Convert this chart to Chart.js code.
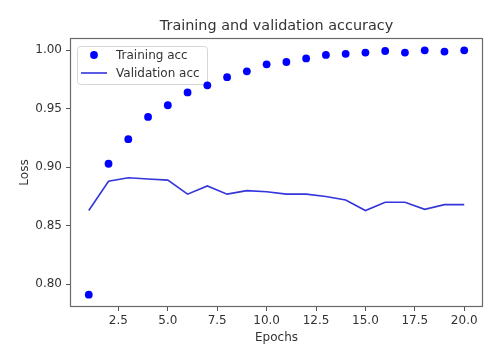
<!DOCTYPE html>
<html>
<head>
<meta charset="utf-8">
<script src="https://cdn.jsdelivr.net/npm/chart.js@4/dist/chart.umd.min.js"></script>
<style>
  html, body { margin: 0; padding: 0; background: #fff; }
  #wrap { width: 500px; height: 352px; }
</style>
</head>
<body>
<div id="wrap"><canvas id="chart" width="500" height="352"></canvas></div>
<script>
const epochs = [1, 2, 3, 4, 5, 6, 7, 8, 9, 10, 11, 12, 13, 14, 15, 16, 17, 18, 19, 20];
const trainAcc = [0.791, 0.903, 0.924, 0.943, 0.953, 0.964, 0.970, 0.977, 0.982, 0.988,
                  0.990, 0.993, 0.996, 0.997, 0.998, 0.9994, 0.998, 1.000, 0.9989, 1.000];
const valAcc = [0.863, 0.888, 0.891, 0.890, 0.889, 0.877, 0.884, 0.877, 0.880, 0.879,
                0.877, 0.877, 0.875, 0.872, 0.863, 0.870, 0.870, 0.864, 0.868, 0.868];
const xTicks = [2.5, 5.0, 7.5, 10.0, 12.5, 15.0, 17.5, 20.0];
const yTicks = [0.80, 0.85, 0.90, 0.95, 1.00];

const textColor = '#333';
const font = 'DejaVu Sans';

const toPoints = (vals) => epochs.map((e, i) => ({ x: e, y: vals[i] }));

// legend box sits under the marks, like the picture shows
const legendBox = {
  id: 'legendBox',
  beforeDatasetsDraw(chart) {
    const { ctx } = chart;
    ctx.save();
    ctx.beginPath();
    ctx.roundRect(77.5, 46.5, 130, 38, 3);
    ctx.fillStyle = '#fff';
    ctx.fill();
    ctx.strokeStyle = '#d6d6d6';
    ctx.lineWidth = 1;
    ctx.stroke();
    ctx.restore();
  }
};

// matplotlib-ish frame, title and legend entries
const decorations = {
  id: 'decorations',
  afterDatasetsDraw(chart) {
    const { ctx, chartArea: a } = chart;
    ctx.save();

    ctx.strokeStyle = '#6a6a6a';
    ctx.lineWidth = 1.2;
    ctx.strokeRect(a.left + 0.5, a.top + 0.5, a.right - a.left - 1, a.bottom - a.top - 1);

    ctx.fillStyle = textColor;
    ctx.font = `14.4px "${font}"`;
    ctx.textAlign = 'center';
    ctx.textBaseline = 'middle';
    ctx.fillText('Training and validation accuracy', (a.left + a.right) / 2, 26.5);

    const ds = chart.data.datasets;
    ctx.font = `12px "${font}"`;
    ctx.textAlign = 'left';

    ctx.fillStyle = ds[0].pointBackgroundColor;
    ctx.beginPath();
    ctx.arc(94, 55, 3.9, 0, Math.PI * 2);
    ctx.fill();
    ctx.fillStyle = textColor;
    ctx.fillText(ds[0].label, 116, 55.5);

    ctx.strokeStyle = ds[1].borderColor;
    ctx.lineWidth = ds[1].borderWidth;
    ctx.beginPath();
    ctx.moveTo(81, 73);
    ctx.lineTo(107, 73);
    ctx.stroke();
    ctx.fillStyle = textColor;
    ctx.fillText(ds[1].label, 116, 73.5);

    ctx.restore();
  }
};

new Chart(document.getElementById('chart'), {
  type: 'line',
  data: {
    datasets: [
      {
        label: 'Training acc',
        data: toPoints(trainAcc),
        showLine: false,
        pointRadius: 3.9,
        pointBackgroundColor: '#0000ff',
        pointBorderWidth: 0,
        borderColor: '#0000ff'
      },
      {
        label: 'Validation acc',
        data: toPoints(valAcc),
        borderColor: '#3535dc',
        borderWidth: 1.6,
        pointRadius: 0,
        tension: 0
      }
    ]
  },
  options: {
    responsive: false,
    animation: false,
    layout: { padding: { top: 38, right: 17, left: 0, bottom: 0 } },
    plugins: {
      legend: { display: false },
      tooltip: { enabled: false }
    },
    scales: {
      x: {
        type: 'linear',
        min: 0.05,
        max: 20.95,
        afterBuildTicks: (scale) => { scale.ticks = xTicks.map(v => ({ value: v })); },
        afterFit: (scale) => { scale.height = 45; },
        grid: { display: true, drawOnChartArea: false, drawTicks: true, tickLength: 4, color: '#555' },
        border: { display: false },
        ticks: {
          color: textColor,
          font: { family: font, size: 12 },
          padding: 3,
          maxRotation: 0,
          autoSkip: false,
          callback: (v) => Number(v).toFixed(1)
        },
        title: {
          display: true,
          text: 'Epochs',
          color: textColor,
          font: { family: font, size: 12 },
          padding: { top: 0, bottom: 7 }
        }
      },
      y: {
        min: 0.7805,
        max: 1.0105,
        afterBuildTicks: (scale) => { scale.ticks = yTicks.map(v => ({ value: v })); },
        afterFit: (scale) => { scale.width = 70; },
        grid: { display: true, drawOnChartArea: false, drawTicks: true, tickLength: 4, color: '#555' },
        border: { display: false },
        ticks: {
          color: textColor,
          font: { family: font, size: 12 },
          padding: 4,
          autoSkip: false,
          callback: (v) => Number(v).toFixed(2)
        },
        title: {
          display: true,
          text: 'Loss',
          color: textColor,
          font: { family: font, size: 12 },
          padding: { top: 18, bottom: 0 }
        }
      }
    }
  },
  plugins: [legendBox, decorations]
});
</script>
</body>
</html>
